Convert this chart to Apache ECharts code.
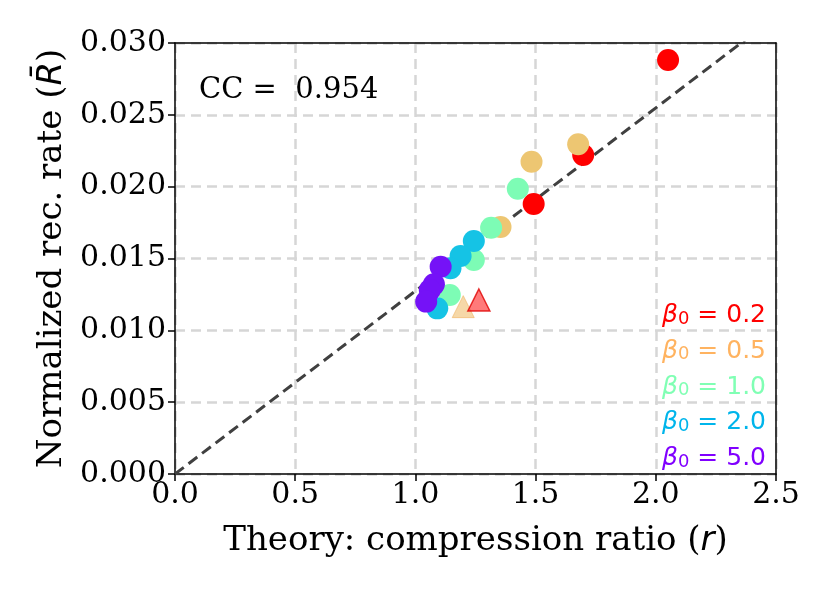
<!DOCTYPE html>
<html>
<head>
<meta charset="utf-8">
<script src="https://cdn.jsdelivr.net/npm/echarts@6/dist/echarts.min.js"></script>
<style>
  html, body { margin: 0; padding: 0; background: #fff; }
  #chart { width: 830px; height: 593px; }
</style>
</head>
<body>
<div id="chart"></div>
<script>
// 各 beta0 的点 [r, R]
const beta02 = [[2.051, 0.02882], [1.698, 0.0222], [1.492, 0.0188]];
const beta05 = [[1.677, 0.02295], [1.483, 0.02174], [1.354, 0.01719]];
const beta10 = [[1.426, 0.01986], [1.315, 0.01714], [1.243, 0.0149], [1.143, 0.01246]];
const beta20 = [[1.243, 0.01622], [1.188, 0.01517], [1.146, 0.01432], [1.091, 0.01153]];
const beta50 = [[1.105, 0.01443], [1.077, 0.0132], [1.06, 0.0128], [1.045, 0.0120]];
// 三角形
const triTan = [[1.199, 0.01165]];
const triRed = [[1.264, 0.01211]];
// 拟合线端点
const fitLine = [[0, 0], [2.5, 0.03185]];

const legendItems = ['0.2', '0.5', '1.0', '2.0', '5.0'];
const legendColors = ['#ff0000', '#ffb360', '#80ffb4', '#00b5eb', '#8000ff'];
const pointColors = ['#ff0000', '#edc672', '#7dfcb5', '#15c3e5', '#7512f7'];
const groups = [beta02, beta05, beta10, beta20, beta50];

const serif = 'DejaVu Serif';
const sans = 'DejaVu Sans';

let chart = echarts.init(document.getElementById('chart'));

let series = [{
  type: 'line',
  data: fitLine,
  symbol: 'none',
  lineStyle: { color: '#404040', width: 3, type: [11, 6] },
  z: 2
}];

groups.forEach((g, i) => {
  series.push({
    type: 'scatter',
    data: g,
    symbol: 'circle',
    symbolSize: 22,
    itemStyle: { color: pointColors[i], opacity: 1 },
    z: 3
  });
});

series.push({
  type: 'scatter',
  data: triTan,
  symbol: 'triangle',
  symbolSize: 22,
  itemStyle: { color: 'rgba(240,190,110,0.75)', borderColor: 'rgba(240,180,100,0.8)', borderWidth: 1 },
  z: 4
});
series.push({
  type: 'scatter',
  data: triRed,
  symbol: 'triangle',
  symbolSize: 22,
  itemStyle: { color: 'rgba(255,60,60,0.85)', borderColor: '#e00000', borderWidth: 1.5 },
  z: 4
});

// 图例文字
let graphic = legendItems.map((v, i) => ({
  type: 'text',
  right: 64,
  top: 303 + i * 35.8,
  style: {
    text: '{b|β}{s|0}{t| = ' + v + '}',
    fill: legendColors[i],
    rich: {
      b: { fontFamily: sans, fontStyle: 'italic', fontSize: 25, fill: legendColors[i], verticalAlign: 'bottom', lineHeight: 30 },
      s: { fontFamily: sans, fontSize: 18, fill: legendColors[i], verticalAlign: 'bottom', lineHeight: 24 },
      t: { fontFamily: sans, fontSize: 25, fill: legendColors[i], verticalAlign: 'bottom', lineHeight: 30 }
    }
  }
}));

graphic.push({
  type: 'text',
  left: 199,
  top: 76,
  style: { text: 'CC =  0.954', fontFamily: serif, fontSize: 29, fill: '#000' }
});

const axisCommon = {
  axisLine: { lineStyle: { color: '#000', width: 1.5 } },
  axisTick: { show: true, length: 7, lineStyle: { color: '#000', width: 1.5 } },
  splitLine: { show: true, lineStyle: { color: '#d6d6d6', width: 2.5, type: [10, 6] } }
};

// 上、右边框
const spine = {
  type: 'value',
  axisLine: { show: true, onZero: false, lineStyle: { color: '#000', width: 1.5 } },
  axisTick: { show: false },
  axisLabel: { show: false },
  splitLine: { show: false },
  z: 10
};

chart.setOption({
  animation: false,
  grid: { left: 175, top: 43, right: 54, bottom: 119 },
  xAxis: [Object.assign({
    type: 'value',
    min: 0, max: 2.5, interval: 0.5,
    name: 'Theory: compression ratio ({i|r})',
    nameLocation: 'middle',
    nameGap: 50,
    nameTextStyle: {
      fontFamily: serif, fontSize: 34, color: '#000',
      rich: { i: { fontFamily: sans, fontStyle: 'italic', fontSize: 34, color: '#000' } }
    },
    axisLabel: { fontFamily: serif, fontSize: 30, color: '#000', margin: 6, formatter: v => v.toFixed(1) }
  }, axisCommon),
  Object.assign({ position: 'top', min: 0, max: 2.5 }, spine)],
  yAxis: [Object.assign({
    type: 'value',
    min: 0, max: 0.03, interval: 0.005,
    name: 'Normalized rec. rate ({i|R\u0304})',
    nameLocation: 'middle',
    nameGap: 100,
    nameTextStyle: {
      fontFamily: serif, fontSize: 34, color: '#000',
      rich: { i: { fontFamily: sans, fontStyle: 'italic', fontSize: 34, color: '#000' } }
    },
    axisLabel: { fontFamily: serif, fontSize: 30, color: '#000', margin: 9, formatter: v => v.toFixed(3) }
  }, axisCommon),
  Object.assign({ position: 'right', min: 0, max: 0.03 }, spine)],
  series: series,
  graphic: graphic
});
</script>
</body>
</html>
